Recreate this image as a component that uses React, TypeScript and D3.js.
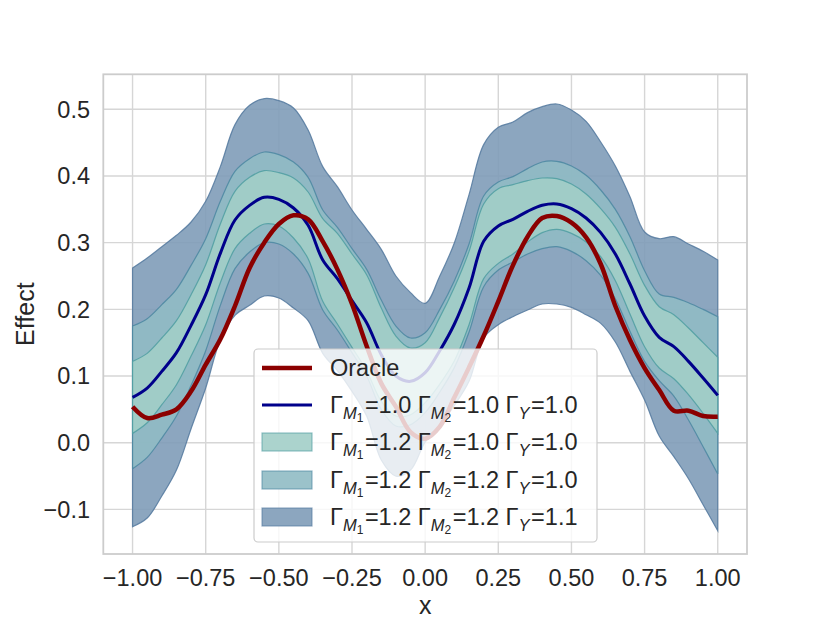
import * as d3 from 'd3';

// sample positions along x
const xs = [
  -1.0, -0.95, -0.9, -0.85, -0.8, -0.75, -0.7, -0.65, -0.6, -0.55, -0.5,
  -0.45, -0.4, -0.35, -0.3, -0.25, -0.2, -0.15, -0.1, -0.05, 0.0,
  0.05, 0.1, 0.15, 0.2, 0.25, 0.3, 0.35, 0.4, 0.45, 0.5,
  0.55, 0.6, 0.65, 0.7, 0.75, 0.8, 0.85, 0.9, 0.95, 1.0,
];

const oracle = [
  0.054, 0.037, 0.042, 0.05, 0.077, 0.117, 0.155, 0.205, 0.262, 0.3, 0.328,
  0.341, 0.335, 0.302, 0.26, 0.208, 0.145, 0.089, 0.054, 0.016, 0.006,
  0.024, 0.068, 0.113, 0.16, 0.212, 0.266, 0.309, 0.337, 0.34, 0.33,
  0.308, 0.268, 0.205, 0.154, 0.112, 0.079, 0.048, 0.048, 0.04, 0.039,
];

// Gamma = 1.0 everywhere (point estimate)
const estimate = [
  0.068, 0.082, 0.107, 0.135, 0.176, 0.222, 0.284, 0.334, 0.356, 0.368, 0.365,
  0.352, 0.326, 0.274, 0.246, 0.213, 0.18, 0.132, 0.1, 0.092, 0.105,
  0.138, 0.178, 0.232, 0.302, 0.325, 0.335, 0.347, 0.356, 0.358, 0.351,
  0.337, 0.315, 0.283, 0.238, 0.19, 0.158, 0.144, 0.122, 0.097, 0.071,
];

// half widths of the sensitivity bands around the estimate
const halfWidth1 = [
  0.054, 0.052, 0.05, 0.048, 0.046, 0.045, 0.044, 0.043, 0.042, 0.04, 0.04,
  0.045, 0.05, 0.062, 0.068, 0.07, 0.072, 0.07, 0.06, 0.05, 0.045,
  0.05, 0.055, 0.055, 0.056, 0.056, 0.052, 0.046, 0.041, 0.038, 0.037,
  0.036, 0.036, 0.04, 0.045, 0.046, 0.046, 0.048, 0.05, 0.053, 0.057,
];
const halfWidth2 = [
  0.107, 0.104, 0.1, 0.095, 0.09, 0.084, 0.078, 0.073, 0.07, 0.068, 0.067,
  0.069, 0.072, 0.075, 0.077, 0.078, 0.08, 0.082, 0.075, 0.065, 0.06,
  0.062, 0.065, 0.066, 0.068, 0.066, 0.064, 0.064, 0.065, 0.064, 0.064,
  0.064, 0.064, 0.067, 0.071, 0.068, 0.065, 0.074, 0.088, 0.103, 0.118,
];
const halfWidth3 = [
  0.194, 0.195, 0.187, 0.176, 0.155, 0.14, 0.13, 0.143, 0.15, 0.148, 0.148,
  0.15, 0.143, 0.14, 0.138, 0.136, 0.14, 0.158, 0.15, 0.133, 0.104,
  0.112, 0.122, 0.14, 0.145, 0.148, 0.146, 0.148, 0.148, 0.15, 0.148,
  0.145, 0.136, 0.132, 0.131, 0.126, 0.148, 0.165, 0.176, 0.19, 0.203,
];

const xTicks = [-1, -0.75, -0.5, -0.25, 0, 0.25, 0.5, 0.75, 1];
const yTicks = [-0.1, 0, 0.1, 0.2, 0.3, 0.4, 0.5];

const estimateGammas = ['1.0', '1.0', '1.0'];
const bandGammas = [
  ['1.2', '1.0', '1.0'],
  ['1.2', '1.2', '1.0'],
  ['1.2', '1.2', '1.1'],
];
const bandFills = ['#a2cec8', '#90bbc4', '#7f9cb8'];
const bandEdges = ['#4f9da1', '#4b87a1', '#52789e'];

const FONT = "'Liberation Sans', Arial, Helvetica, sans-serif";
const TEXT = '#262626';
const FS = 23.5;
const W = 830;
const H = 623;
const left = 103.3, right = 747, top = 74.3, bottom = 554;

function GammaLabel({ x, y, g }: { x: number; y: number; g: string[] }) {
  const base = y + 8.4;
  const sub = base + 5.5;
  const subsub = base + 8.5;
  return (
    <text x={x} y={base} fontSize={FS} fill={TEXT} fontFamily={FONT}>
      <tspan>Γ</tspan>
      <tspan y={sub} fontSize={16.5} fontStyle="italic">M</tspan>
      <tspan y={subsub} fontSize={12}>1</tspan>
      <tspan y={base} dx={1.5}>{'=' + g[0] + ' Γ'}</tspan>
      <tspan y={sub} fontSize={16.5} fontStyle="italic">M</tspan>
      <tspan y={subsub} fontSize={12}>2</tspan>
      <tspan y={base} dx={1.5}>{'=' + g[1] + ' Γ'}</tspan>
      <tspan y={sub} fontSize={16.5} fontStyle="italic">Y</tspan>
      <tspan y={base} dx={1.5}>{'=' + g[2]}</tspan>
    </text>
  );
}

export default function App() {
  const x = d3.scaleLinear().domain([-1.1, 1.1]).range([left, right]);
  const y = d3.scaleLinear().domain([-0.1669, 0.5525]).range([bottom, top]);
  const curve = d3.curveCatmullRom.alpha(0.5);

  const halfWidths = [halfWidth1, halfWidth2, halfWidth3];
  const band = (hw: number[]) =>
    d3.area<number>()
      .x((_, i) => x(xs[i]))
      .y0((_, i) => y(estimate[i] - hw[i]))
      .y1((_, i) => y(estimate[i] + hw[i]))
      .curve(curve)(xs) || undefined;

  const line = (vals: number[]) =>
    d3.line<number>()
      .x((_, i) => x(xs[i]))
      .y((_, i) => y(vals[i]))
      .curve(curve)(xs) || undefined;

  const fx = d3.format('.2f');
  const fy = d3.format('.1f');

  const legendX = 254, legendY = 349, legendW = 343, legendH = 193;
  const rows = [368, 405, 442, 480, 517];

  return (
    <div style={{ position: 'absolute', left: 0, top: 0 }}>
      <svg width={W} height={H} style={{ display: 'block', background: '#fff' }}>
        {/* grid */}
        {xTicks.map(t => (
          <line key={'gx' + t} x1={x(t)} x2={x(t)} y1={top} y2={bottom} stroke="#d6d6d6" strokeWidth={1.4} />
        ))}
        {yTicks.map(t => (
          <line key={'gy' + t} x1={left} x2={right} y1={y(t)} y2={y(t)} stroke="#d6d6d6" strokeWidth={1.4} />
        ))}

        {/* bands, widest first */}
        {[2, 1, 0].map(k => (
          <path key={'band' + k} d={band(halfWidths[k])} fill={bandFills[k]} fillOpacity={0.9}
            stroke={bandEdges[k]} strokeWidth={1.2} strokeOpacity={0.85} />
        ))}

        <path d={line(estimate)} fill="none" stroke="#00008b" strokeWidth={3} strokeLinejoin="round" />
        <path d={line(oracle)} fill="none" stroke="#8b0000" strokeWidth={4.5} strokeLinejoin="round" />

        {/* spines */}
        <rect x={left} y={top} width={right - left} height={bottom - top} fill="none" stroke="#cccccc" strokeWidth={1.8} />

        {/* tick labels */}
        {xTicks.map(t => (
          <text key={'tx' + t} x={x(t)} y={586} textAnchor="middle" fontSize={FS} fill={TEXT} fontFamily={FONT}>
            {fx(t)}
          </text>
        ))}
        {yTicks.map(t => (
          <text key={'ty' + t} x={90} y={y(t) + 8.4} textAnchor="end" fontSize={FS} fill={TEXT} fontFamily={FONT}>
            {fy(t)}
          </text>
        ))}
        <text x={(left + right) / 2} y={614} textAnchor="middle" fontSize={25} fill={TEXT} fontFamily={FONT}>x</text>
        <text transform={`translate(34, ${(top + bottom) / 2}) rotate(-90)`} textAnchor="middle" fontSize={25} fill={TEXT} fontFamily={FONT}>
          Effect
        </text>

        {/* legend */}
        <rect x={legendX} y={legendY} width={legendW} height={legendH} rx={4} fill="#fff" fillOpacity={0.8} stroke="#cccccc" strokeWidth={1.2} />
        <line x1={262} x2={312} y1={rows[0]} y2={rows[0]} stroke="#8b0000" strokeWidth={4.5} />
        <text x={330} y={rows[0] + 8.4} fontSize={FS} fill={TEXT} fontFamily={FONT}>Oracle</text>
        <line x1={262} x2={312} y1={rows[1]} y2={rows[1]} stroke="#00008b" strokeWidth={3} />
        <GammaLabel x={330} y={rows[1]} g={estimateGammas} />
        {bandGammas.map((g, k) => (
          <g key={'leg' + k}>
            <rect x={262} y={rows[k + 2] - 9} width={50} height={18} fill={bandFills[k]} fillOpacity={0.9}
              stroke={bandEdges[k]} strokeOpacity={0.6} strokeWidth={1.2} />
            <GammaLabel x={330} y={rows[k + 2]} g={g} />
          </g>
        ))}
      </svg>
    </div>
  );
}
